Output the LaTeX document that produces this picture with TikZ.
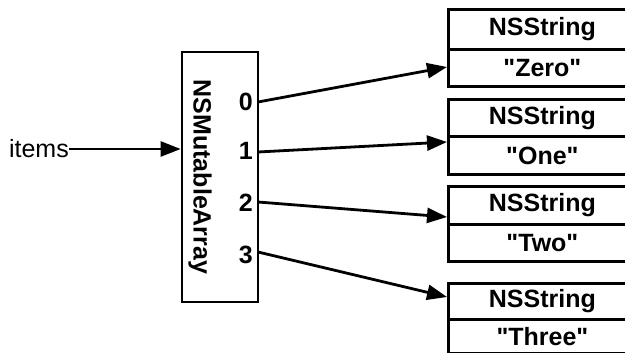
\documentclass[tikz,border=0pt]{standalone}
\usepackage{fontspec}
\setmainfont{Liberation Sans}
\newfontfamily\lsans{Liberation Sans}
\usetikzlibrary{arrows.meta}
\tikzset{
  box/.style={draw, line width=2.8pt, inner sep=0pt, rectangle},
  lbl/.style={font=\lsans\fontsize{25}{28}\selectfont\bfseries, inner sep=0pt},
  conn/.style={line width=2.8pt, -{Triangle[length=20pt,width=15pt]}},
}
\begin{document}
\begin{tikzpicture}[x=1pt,y=-1pt]
\useasboundingbox (0,0) rectangle (625,353);
% array
\node[box, minimum width=76pt, minimum height=250pt] (arr) at (220,177) {};
\node[lbl, rotate=-90] (arrname) at (200,177) {NSMutableArray};
\node[lbl, anchor=east] (l0) at (253,102) {0};
\node[lbl, anchor=east] (l1) at (253,151) {1};
\node[lbl, anchor=east] (l2) at (253,203) {2};
\node[lbl, anchor=east] (l3) at (253,255) {3};
\coordinate (p0) at (258,102);
\coordinate (p1) at (258,152);
\coordinate (p2) at (258,202);
\coordinate (p3) at (258,252);
% items
\node[lbl, font=\lsans\fontsize{25}{28}\selectfont, anchor=east] (items) at (69,149) {items};
\draw[conn] (items.east) -- (arr.west |- items.east);
% strings
\foreach \i/\top/\mid/\bot/\txt in {0/8/48/85/"Zero",1/98/135/173/"One",2/185/223/260/"Two",3/282/318/352/"Three"}{
  \node[box, minimum width=180pt, minimum height=\mid-\top, anchor=north west] (s\i h) at (447,\top) {};
  \node[box, minimum width=180pt, minimum height=\bot-\mid, anchor=north west] (s\i v) at (447,\mid) {};
  \node[lbl] (s\i ht) at ([xshift=4pt]s\i h.center) {NSString};
  \node[lbl] (s\i vt) at ([xshift=4pt]s\i v.center) {\txt};
}
\coordinate (e0) at (447,67);
\coordinate (e1) at (447,142);
\coordinate (e2) at (447,217);
\coordinate (e3) at (447,297);
\draw[conn] (p0) -- (e0);
\draw[conn] (p1) -- (e1);
\draw[conn] (p2) -- (e2);
\draw[conn] (p3) -- (e3);
\end{tikzpicture}
\end{document}
